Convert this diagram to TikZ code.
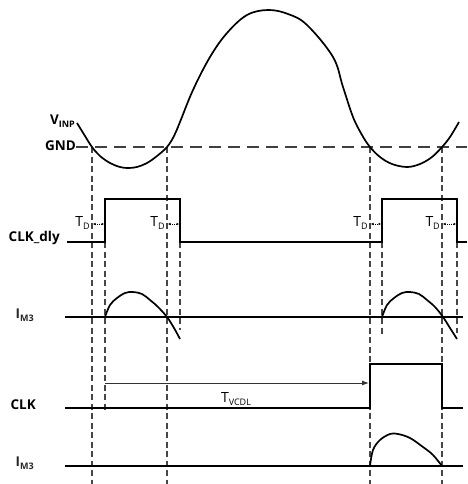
\documentclass[tikz,border=0pt]{standalone}
\usepackage{fontspec}
\setmainfont{Open Sans}
\usetikzlibrary{arrows.meta}
\newcommand\lowsub[1]{\raisebox{-0.4ex}{\fontsize{9}{9}\selectfont #1}}
\begin{document}
\begin{tikzpicture}[x=1pt,y=-1pt,
  sig/.style={line width=1.7pt, line join=miter},
  guide/.style={draw=black!72, line width=1.1pt, dash pattern=on 6pt off 3.5pt},
  gndline/.style={draw=black!75, line width=1.6pt, dash pattern=on 12pt off 7pt},
  lbl/.style={font=\fontsize{13.5}{13.5}\selectfont\bfseries, inner sep=0pt},
  mlbl/.style={font=\fontsize{13.5}{13.5}\selectfont\bfseries, inner sep=0pt, text=black!85},
  rlbl/.style={font=\fontsize{14}{14}\selectfont, inner sep=0pt},
  tdarrow/.style={densely dotted, line width=0.9pt, {Latex[length=2.5pt,width=2.5pt]}-{Latex[length=2.5pt,width=2.5pt]}},
  vcdl/.style={draw=black!80, line width=0.9pt, -{Latex[length=7pt,width=5pt]}}]
\useasboundingbox (0,0) rectangle (467,484);

% labels
\node[lbl, anchor=east] (vinp) at (75,121) {V\lowsub{INP}};
\node[lbl, anchor=east] (gnd) at (76,146) {GND};
\node[lbl, anchor=east] (clkdly) at (60,238) {CLK\_dly};
\node[mlbl, anchor=east] (im3a) at (34,315) {I\lowsub{M3}};
\node[lbl, anchor=east] (clk) at (36,405) {CLK};
\node[mlbl, anchor=east] (im3b) at (34,463) {I\lowsub{M3}};

% GND dashed line
\coordinate (g0) at (76,147);
\coordinate (g1) at (467,147);
\draw[gndline] (g0) -- (g1);

% guide lines
\foreach \x/\ya/\yb/\n in {92/147/484/a,167/147/484/b,370/147/484/c,442/147/484/d,105/242/410/e,180/242/330/f,382/242/336/g,457/242/333/h}{
  \coordinate (t\n) at (\x,\ya);
  \coordinate (b\n) at (\x,\yb);
  \draw[guide] (t\n) -- (b\n);
}

% VINP curve
\draw[sig] plot[smooth, tension=0.6] coordinates {(77,123) (85,136) (92,147) (100,156) (110,163) (120,167) (128,168) (137,167) (147,163) (157,156) (167,147) (174,136) (180,122) (193,90) (210,57) (227,33) (247,15) (268,10) (288,14) (307,25) (333,57) (343,87) (353,117) (362,135) (370,147) (380,157) (392,164) (407,167) (420,164) (432,157) (442,147) (450,137) (459,122)};

% CLK_dly
\coordinate (cd0) at (67,242);
\coordinate (cd1) at (467,242);
\draw[sig] (cd0) -- (105,242) -- (105,199) -- (180,199) -- (180,242) -- (382,242) -- (382,199) -- (457,199) -- (457,242) -- (cd1);

% TD arrows
\foreach \xa/\xb/\n in {92/105/1,167/180/2,370/382/3,442/457/4}{
  \coordinate (tdl\n) at (\xa+1,224);
  \coordinate (tdr\n) at (\xb-1,224);
  \draw[tdarrow] (tdl\n) -- (tdr\n);
}
\node[rlbl, anchor=east] (td1) at (90,223) {T\lowsub{D}};
\node[rlbl, anchor=east] (td2) at (165,223) {T\lowsub{D}};
\node[rlbl, anchor=east] (td3) at (368,223) {T\lowsub{D}};
\node[rlbl, anchor=east] (td4) at (440,223) {T\lowsub{D}};

% IM3 (first)
\coordinate (ia0) at (65,317);
\coordinate (ia1) at (463,317);
\draw[sig] (ia0) -- (ia1);
\draw[sig] plot[smooth, tension=0.6] coordinates {(105,317) (110,305) (117,298) (125,293) (133,292) (142,294) (150,300) (158,307) (167,317) (174,328) (180,339)};
\draw[sig] plot[smooth, tension=0.6] coordinates {(382,317) (387,305) (394,298) (402,293) (410,292) (419,294) (427,300) (435,307) (443,317) (450,328) (457,339)};

% CLK
\coordinate (c0) at (65,408);
\coordinate (c1) at (463,408);
\draw[sig] (c0) -- (370,408) -- (370,364) -- (442,364) -- (442,408) -- (c1);

% TVCDL
\coordinate (v0) at (105,383);
\coordinate (v1) at (369,383);
\draw[vcdl] (v0) -- (v1);
\node[rlbl] (tvcdl) at (236,399) {T\lowsub{VCDL}};

% IM3 (second)
\coordinate (ib0) at (65,466);
\coordinate (ib1) at (463,466);
\draw[sig] (ib0) -- (ib1);
\draw[sig] plot[smooth, tension=0.6] coordinates {(370,466) (373,450) (380,440) (390,434) (398,434) (410,438) (423,447) (433,455) (442,466)};
\end{tikzpicture}
\end{document}
